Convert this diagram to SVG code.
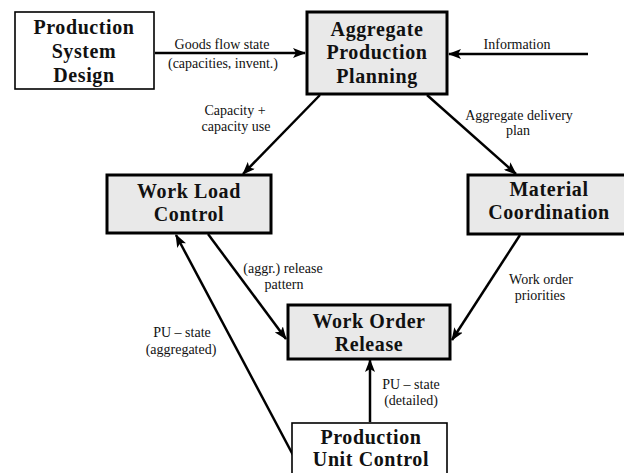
<svg xmlns="http://www.w3.org/2000/svg" width="624" height="473" viewBox="0 0 624 473">
<style>
.bg{fill:#fff}
.g rect{fill:#e9e9e9;stroke:#000;stroke-width:3}
.w rect{fill:#fff;stroke:#000;stroke-width:1.6}
.t{font-family:"Liberation Serif","Times New Roman",serif;font-weight:bold;font-size:20px;letter-spacing:0.6px;text-anchor:middle;fill:#111}
.l{font-family:"Liberation Serif","Times New Roman",serif;font-size:14px;text-anchor:middle;fill:#111}
.c line{stroke:#000;stroke-width:2.5;marker-end:url(#ah)}
</style>
<defs>
<marker id="ah" markerUnits="userSpaceOnUse" markerWidth="13" markerHeight="10" refX="12" refY="5" orient="auto">
<path d="M0,0 L13,5 L0,10 L3,5 z" fill="#000"/>
</marker>
</defs>
<rect class="bg" x="0" y="0" width="624" height="473"/>
<g id="connectors" class="c">
<line x1="155" y1="53" x2="305" y2="53"/>
<line x1="588" y1="54" x2="449" y2="54"/>
<line x1="320" y1="95" x2="243" y2="174"/>
<line x1="427" y1="95" x2="516" y2="174"/>
<line x1="208" y1="234" x2="286" y2="339"/>
<line x1="520" y1="235" x2="452" y2="340"/>
<line x1="293" y1="455" x2="176" y2="235"/>
<line x1="370" y1="422" x2="370" y2="360"/>
</g>
<g id="labels">
<text class="l" x="222" y="49">Goods flow state</text>
<text class="l" x="223" y="68">(capacities, invent.)</text>
<text class="l" x="517" y="49">Information</text>
<text class="l" x="235" y="115">Capacity +</text>
<text class="l" x="236" y="131">capacity use</text>
<text class="l" x="519" y="120">Aggregate delivery</text>
<text class="l" x="518" y="135">plan</text>
<text class="l" x="283" y="273">(aggr.) release</text>
<text class="l" x="284" y="289">pattern</text>
<text class="l" x="541" y="284">Work order</text>
<text class="l" x="540" y="300">priorities</text>
<text class="l" x="182" y="337">PU &#8211; state</text>
<text class="l" x="181" y="354">(aggregated)</text>
<text class="l" x="411" y="389">PU &#8211; state</text>
<text class="l" x="411" y="405">(detailed)</text>
</g>
<g id="psd" class="w">
<rect x="15" y="12" width="139" height="77"/>
<text class="t" x="84" y="34">Production</text>
<text class="t" x="84" y="58">System</text>
<text class="t" x="84" y="82">Design</text>
</g>
<g id="app" class="g">
<rect x="307" y="12" width="140" height="82"/>
<text class="t" x="377" y="36">Aggregate</text>
<text class="t" x="377" y="59">Production</text>
<text class="t" x="377" y="83">Planning</text>
</g>
<g id="wlc" class="g">
<rect x="107" y="175" width="164" height="58"/>
<text class="t" x="189" y="198">Work Load</text>
<text class="t" x="189" y="221">Control</text>
</g>
<g id="mc" class="g">
<rect x="468" y="175" width="160" height="59"/>
<text class="t" x="549" y="196">Material</text>
<text class="t" x="549" y="219">Coordination</text>
</g>
<g id="wor" class="g">
<rect x="288" y="305" width="162" height="54"/>
<text class="t" x="369" y="328">Work Order</text>
<text class="t" x="369" y="351">Release</text>
</g>
<g id="puc" class="w">
<rect x="292" y="423" width="155" height="60"/>
<text class="t" x="371" y="444">Production</text>
<text class="t" x="371" y="466">Unit Control</text>
</g>
</svg>
